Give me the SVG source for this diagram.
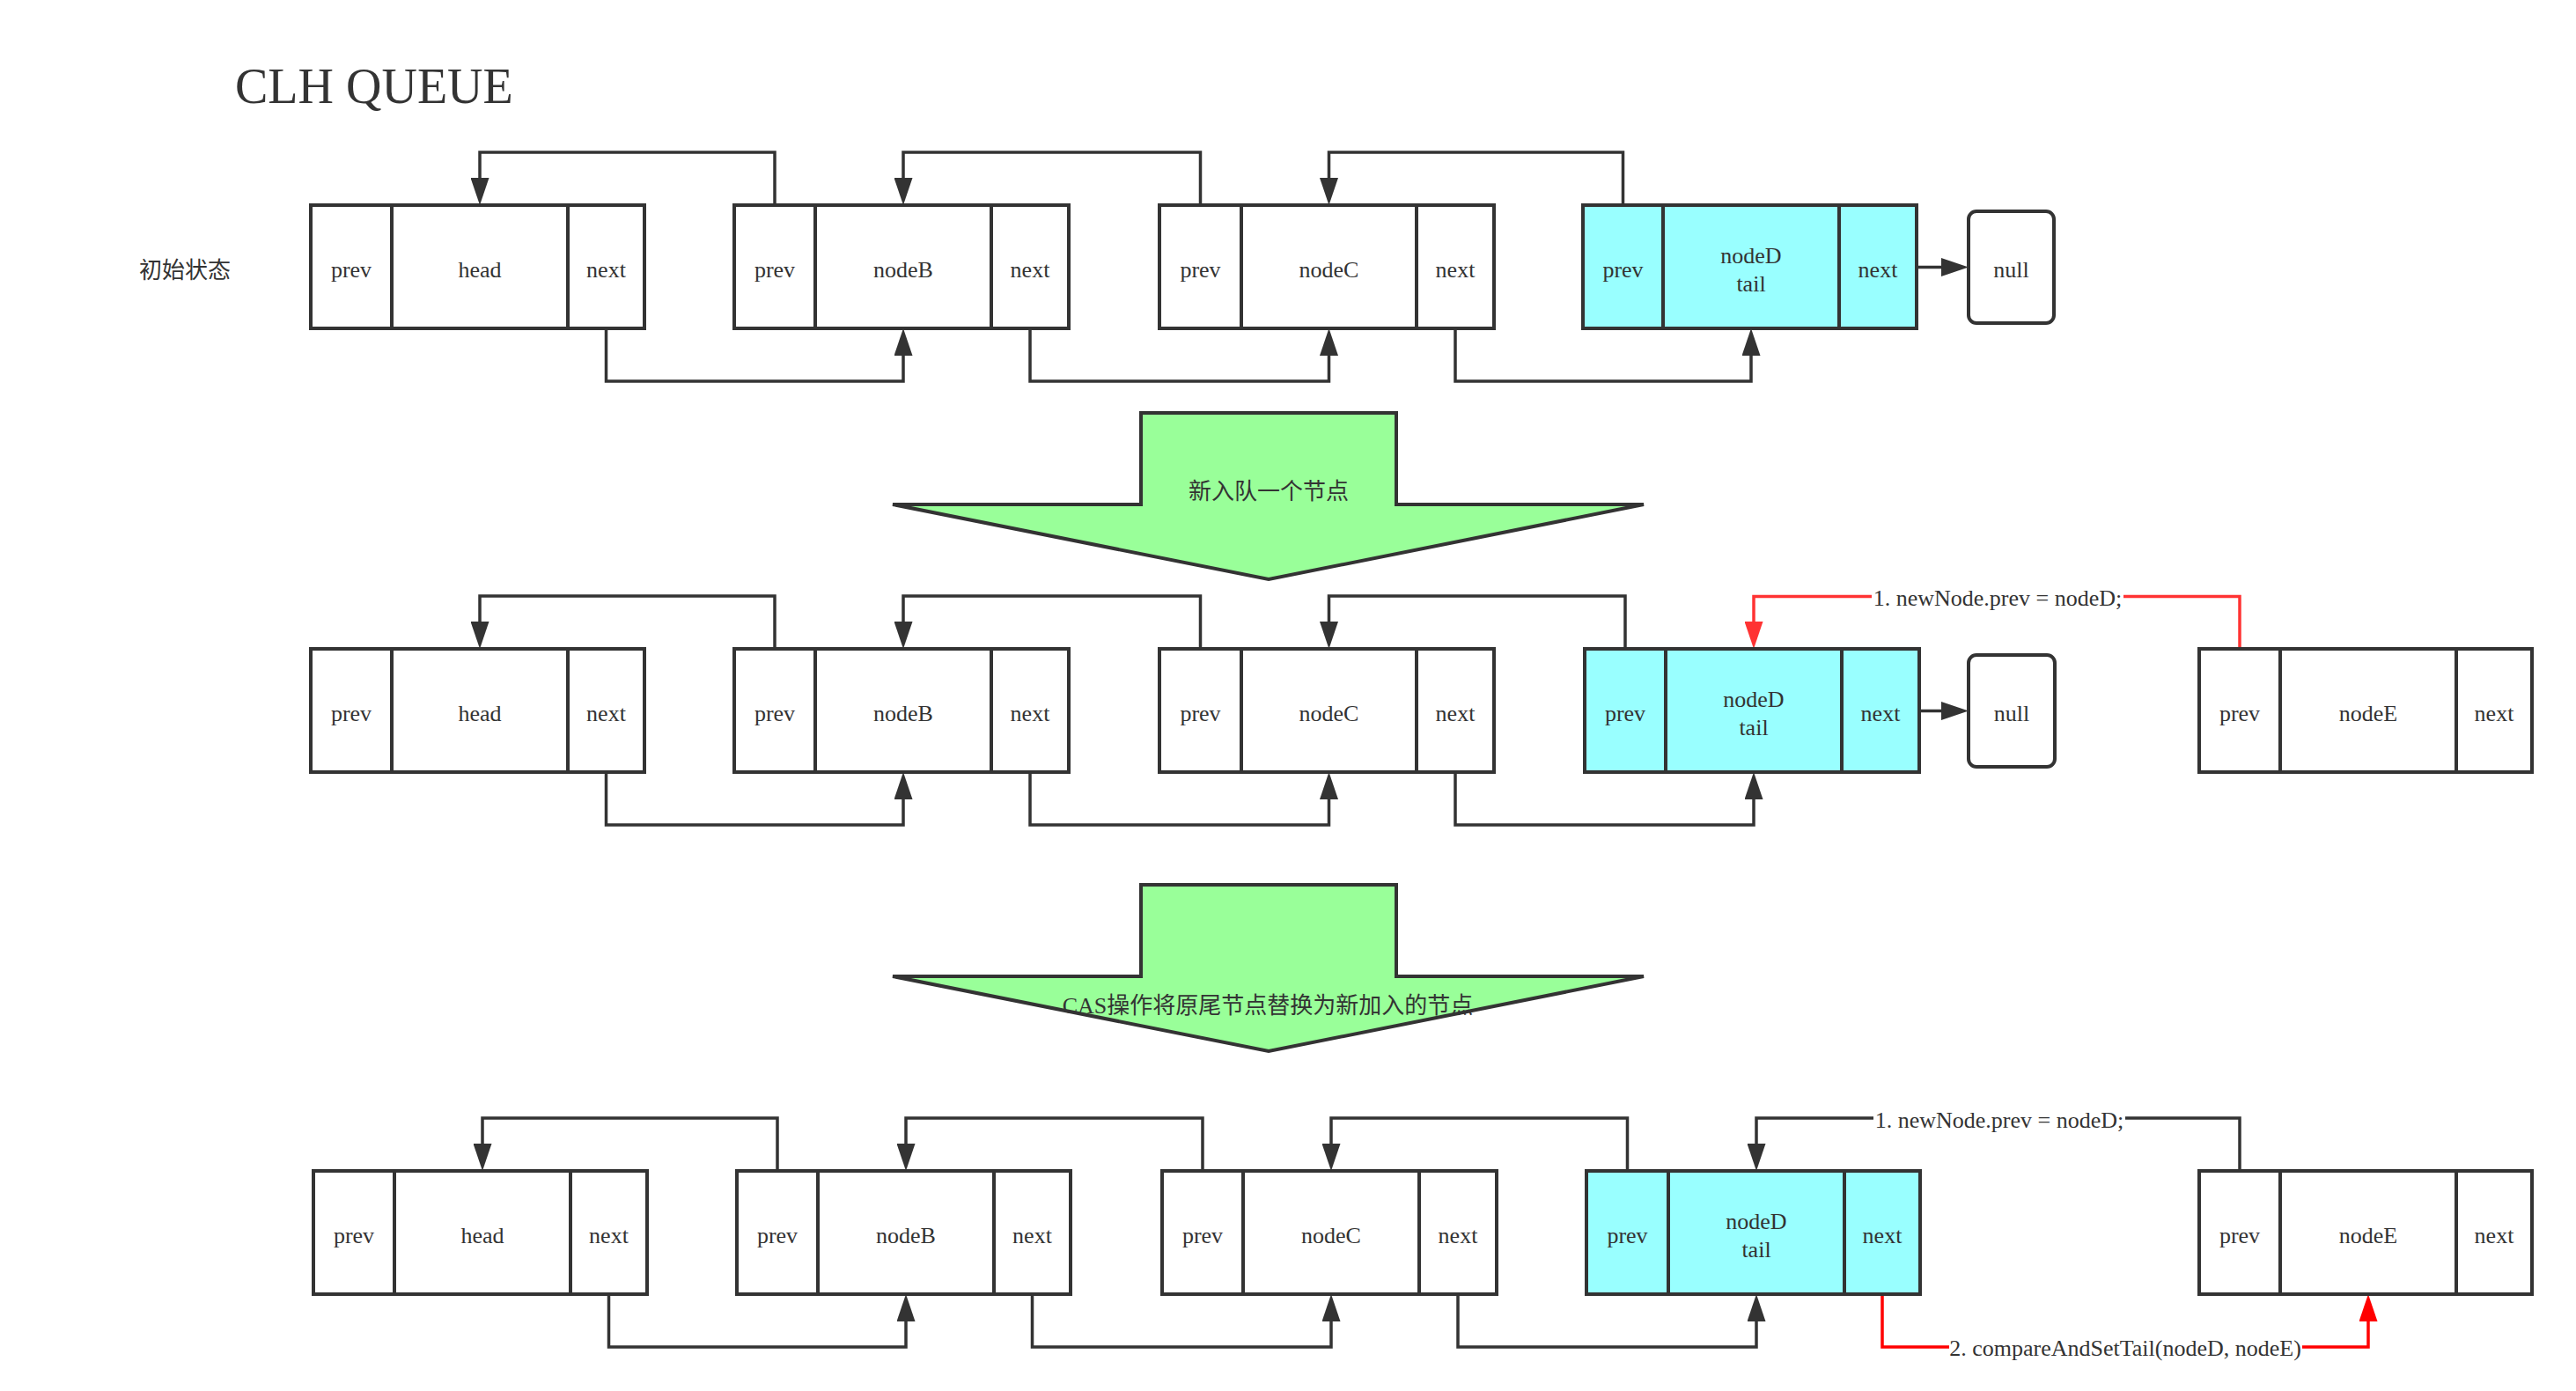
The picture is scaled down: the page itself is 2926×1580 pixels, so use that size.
<svg xmlns="http://www.w3.org/2000/svg" width="2926" height="1580" viewBox="0 0 2926 1580">
<style>
.bg{fill:#ffffff}
.box{fill:#ffffff;stroke:#333333;stroke-width:4}
.tail{fill:#99ffff;stroke:#333333;stroke-width:4}
.div{stroke:#333333;stroke-width:4}
.nul{fill:#ffffff;stroke:#333333;stroke-width:4}
.t{font-family:"Liberation Serif","Times New Roman",serif;font-size:26px;fill:#333333;text-anchor:middle}
.cjk{font-family:"Liberation Serif","Noto Sans CJK SC",serif;font-size:26px;fill:#333333}
.title{font-family:"Liberation Serif","Times New Roman",serif;font-size:56px;fill:#333333}
.c{fill:none;stroke:#333333;stroke-width:3.5}
.cr{fill:none;stroke:#ff3333;stroke-width:3.5}
.cr2{fill:none;stroke:#ff0000;stroke-width:3.5}
.big{fill:#99ff99;stroke:#333333;stroke-width:4;stroke-linejoin:miter}
.lbl{fill:#ffffff}
</style>
<defs>
<marker id="ah" markerUnits="userSpaceOnUse" markerWidth="31" markerHeight="21" refX="0" refY="10.5" orient="auto"><path d="M0,0 L31,10.5 L0,21 Z" fill="#333333"/></marker>
<marker id="ahr" markerUnits="userSpaceOnUse" markerWidth="31" markerHeight="21" refX="0" refY="10.5" orient="auto"><path d="M0,0 L31,10.5 L0,21 Z" fill="#ff3333"/></marker>
<marker id="ahr2" markerUnits="userSpaceOnUse" markerWidth="31" markerHeight="21" refX="0" refY="10.5" orient="auto"><path d="M0,0 L31,10.5 L0,21 Z" fill="#ff0000"/></marker>
</defs>
<rect class="bg" x="0" y="0" width="2926" height="1580"/>

<text id="title" class="title" x="267" y="117">CLH QUEUE</text>
<text id="label-init" class="cjk" x="158" y="316">初始状态</text>

<g id="connectors">
<!-- row 1 -->
<path class="c" d="M880,233 V173 H545 V202" marker-end="url(#ah)"/>
<path class="c" d="M1363.5,233 V173 H1026 V202" marker-end="url(#ah)"/>
<path class="c" d="M1843.5,233 V173 H1509.5 V202" marker-end="url(#ah)"/>
<path class="c" d="M688.5,373 V433 H1026 V404" marker-end="url(#ah)"/>
<path class="c" d="M1170,373 V433 H1509.5 V404" marker-end="url(#ah)"/>
<path class="c" d="M1653,373 V433 H1989 V404" marker-end="url(#ah)"/>
<path class="c" d="M2179,303.5 H2205" marker-end="url(#ah)"/>
<!-- row 2 -->
<path class="c" d="M880,737 V677 H545 V706" marker-end="url(#ah)"/>
<path class="c" d="M1363.5,737 V677 H1026 V706" marker-end="url(#ah)"/>
<path class="c" d="M1846,737 V677 H1509.5 V706" marker-end="url(#ah)"/>
<path class="c" d="M688.5,877 V937 H1026 V908" marker-end="url(#ah)"/>
<path class="c" d="M1170,877 V937 H1509.5 V908" marker-end="url(#ah)"/>
<path class="c" d="M1653,877 V937 H1992 V908" marker-end="url(#ah)"/>
<path class="c" d="M2182,807.5 H2205" marker-end="url(#ah)"/>
<path class="cr" d="M2544,737 V677.5 H1992 V706" marker-end="url(#ahr)"/>
<rect class="lbl" x="2126" y="664" width="286" height="30"/>
<text class="t" x="2269" y="688">1. newNode.prev = nodeD;</text>
<!-- row 3 -->
<path class="c" d="M883,1330 V1270 H548 V1299" marker-end="url(#ah)"/>
<path class="c" d="M1366,1330 V1270 H1029 V1299" marker-end="url(#ah)"/>
<path class="c" d="M1848.5,1330 V1270 H1512 V1299" marker-end="url(#ah)"/>
<path class="c" d="M2544,1330 V1270 H1995 V1299" marker-end="url(#ah)"/>
<rect class="lbl" x="2128" y="1256" width="286" height="30"/>
<text class="t" x="2271" y="1281">1. newNode.prev = nodeD;</text>
<path class="c" d="M691.5,1470 V1530 H1029 V1501" marker-end="url(#ah)"/>
<path class="c" d="M1172.5,1470 V1530 H1512 V1501" marker-end="url(#ah)"/>
<path class="c" d="M1656,1470 V1530 H1995 V1501" marker-end="url(#ah)"/>
<path class="cr2" d="M2138,1470 V1530 H2690 V1501" marker-end="url(#ahr2)"/>
<rect class="lbl" x="2214" y="1516" width="401" height="30"/>
<text class="t" x="2414" y="1540">2. compareAndSetTail(nodeD, nodeE)</text>
</g>

<!-- big arrows -->
<g id="step1">
<polygon class="big" points="1296,469 1586,469 1586,573 1867,573 1441,658 1014,573 1296,573"/>
<text class="cjk" x="1441" y="567" text-anchor="middle">新入队一个节点</text>
</g>
<g id="step2">
<polygon class="big" points="1296,1005 1586,1005 1586,1109 1867,1109 1441,1194 1014,1109 1296,1109"/>
<text class="cjk" x="1440" y="1151" text-anchor="middle">CAS操作将原尾节点替换为新加入的节点</text>
</g>

<!-- row 1 nodes -->
<g id="r1-head"><rect class="box" x="353" y="233" width="379" height="140"/><line class="div" x1="445" y1="233" x2="445" y2="373"/><line class="div" x1="645" y1="233" x2="645" y2="373"/>
<text class="t" x="399" y="315">prev</text><text class="t" x="545" y="315">head</text><text class="t" x="688.5" y="315">next</text></g>
<g id="r1-nodeB"><rect class="box" x="834" y="233" width="380" height="140"/><line class="div" x1="926" y1="233" x2="926" y2="373"/><line class="div" x1="1126" y1="233" x2="1126" y2="373"/>
<text class="t" x="880" y="315">prev</text><text class="t" x="1026" y="315">nodeB</text><text class="t" x="1170" y="315">next</text></g>
<g id="r1-nodeC"><rect class="box" x="1317" y="233" width="380" height="140"/><line class="div" x1="1410" y1="233" x2="1410" y2="373"/><line class="div" x1="1609" y1="233" x2="1609" y2="373"/>
<text class="t" x="1363.5" y="315">prev</text><text class="t" x="1509.5" y="315">nodeC</text><text class="t" x="1653" y="315">next</text></g>
<g id="r1-nodeD"><rect class="tail" x="1798" y="233" width="379" height="140"/><line class="div" x1="1889" y1="233" x2="1889" y2="373"/><line class="div" x1="2089" y1="233" x2="2089" y2="373"/>
<text class="t" x="1843.5" y="315">prev</text><text class="t" x="1989" y="299">nodeD</text><text class="t" x="1989" y="331">tail</text><text class="t" x="2133" y="315">next</text></g>
<g id="r1-null"><rect class="nul" x="2236" y="240" width="97" height="127" rx="9"/><text class="t" x="2284.5" y="315">null</text></g>

<!-- row 2 nodes -->
<g id="r2-head"><rect class="box" x="353" y="737" width="379" height="140"/><line class="div" x1="445" y1="737" x2="445" y2="877"/><line class="div" x1="645" y1="737" x2="645" y2="877"/>
<text class="t" x="399" y="819">prev</text><text class="t" x="545" y="819">head</text><text class="t" x="688.5" y="819">next</text></g>
<g id="r2-nodeB"><rect class="box" x="834" y="737" width="380" height="140"/><line class="div" x1="926" y1="737" x2="926" y2="877"/><line class="div" x1="1126" y1="737" x2="1126" y2="877"/>
<text class="t" x="880" y="819">prev</text><text class="t" x="1026" y="819">nodeB</text><text class="t" x="1170" y="819">next</text></g>
<g id="r2-nodeC"><rect class="box" x="1317" y="737" width="380" height="140"/><line class="div" x1="1410" y1="737" x2="1410" y2="877"/><line class="div" x1="1609" y1="737" x2="1609" y2="877"/>
<text class="t" x="1363.5" y="819">prev</text><text class="t" x="1509.5" y="819">nodeC</text><text class="t" x="1653" y="819">next</text></g>
<g id="r2-nodeD"><rect class="tail" x="1800" y="737" width="380" height="140"/><line class="div" x1="1892" y1="737" x2="1892" y2="877"/><line class="div" x1="2092" y1="737" x2="2092" y2="877"/>
<text class="t" x="1846" y="819">prev</text><text class="t" x="1992" y="803">nodeD</text><text class="t" x="1992" y="835">tail</text><text class="t" x="2136" y="819">next</text></g>
<g id="r2-null"><rect class="nul" x="2236" y="744" width="98" height="127" rx="9"/><text class="t" x="2285" y="819">null</text></g>
<g id="r2-nodeE"><rect class="box" x="2498" y="737" width="378" height="140"/><line class="div" x1="2590" y1="737" x2="2590" y2="877"/><line class="div" x1="2790" y1="737" x2="2790" y2="877"/>
<text class="t" x="2544" y="819">prev</text><text class="t" x="2690" y="819">nodeE</text><text class="t" x="2833" y="819">next</text></g>

<!-- row 3 nodes -->
<g id="r3-head"><rect class="box" x="356" y="1330" width="379" height="140"/><line class="div" x1="448" y1="1330" x2="448" y2="1470"/><line class="div" x1="648" y1="1330" x2="648" y2="1470"/>
<text class="t" x="402" y="1412">prev</text><text class="t" x="548" y="1412">head</text><text class="t" x="691.5" y="1412">next</text></g>
<g id="r3-nodeB"><rect class="box" x="837" y="1330" width="379" height="140"/><line class="div" x1="929" y1="1330" x2="929" y2="1470"/><line class="div" x1="1129" y1="1330" x2="1129" y2="1470"/>
<text class="t" x="883" y="1412">prev</text><text class="t" x="1029" y="1412">nodeB</text><text class="t" x="1172.5" y="1412">next</text></g>
<g id="r3-nodeC"><rect class="box" x="1320" y="1330" width="380" height="140"/><line class="div" x1="1412" y1="1330" x2="1412" y2="1470"/><line class="div" x1="1612" y1="1330" x2="1612" y2="1470"/>
<text class="t" x="1366" y="1412">prev</text><text class="t" x="1512" y="1412">nodeC</text><text class="t" x="1656" y="1412">next</text></g>
<g id="r3-nodeD"><rect class="tail" x="1802" y="1330" width="379" height="140"/><line class="div" x1="1895" y1="1330" x2="1895" y2="1470"/><line class="div" x1="2095" y1="1330" x2="2095" y2="1470"/>
<text class="t" x="1848.5" y="1412">prev</text><text class="t" x="1995" y="1396">nodeD</text><text class="t" x="1995" y="1428">tail</text><text class="t" x="2138" y="1412">next</text></g>
<g id="r3-nodeE"><rect class="box" x="2498" y="1330" width="378" height="140"/><line class="div" x1="2590" y1="1330" x2="2590" y2="1470"/><line class="div" x1="2790" y1="1330" x2="2790" y2="1470"/>
<text class="t" x="2544" y="1412">prev</text><text class="t" x="2690" y="1412">nodeE</text><text class="t" x="2833" y="1412">next</text></g>
</svg>
